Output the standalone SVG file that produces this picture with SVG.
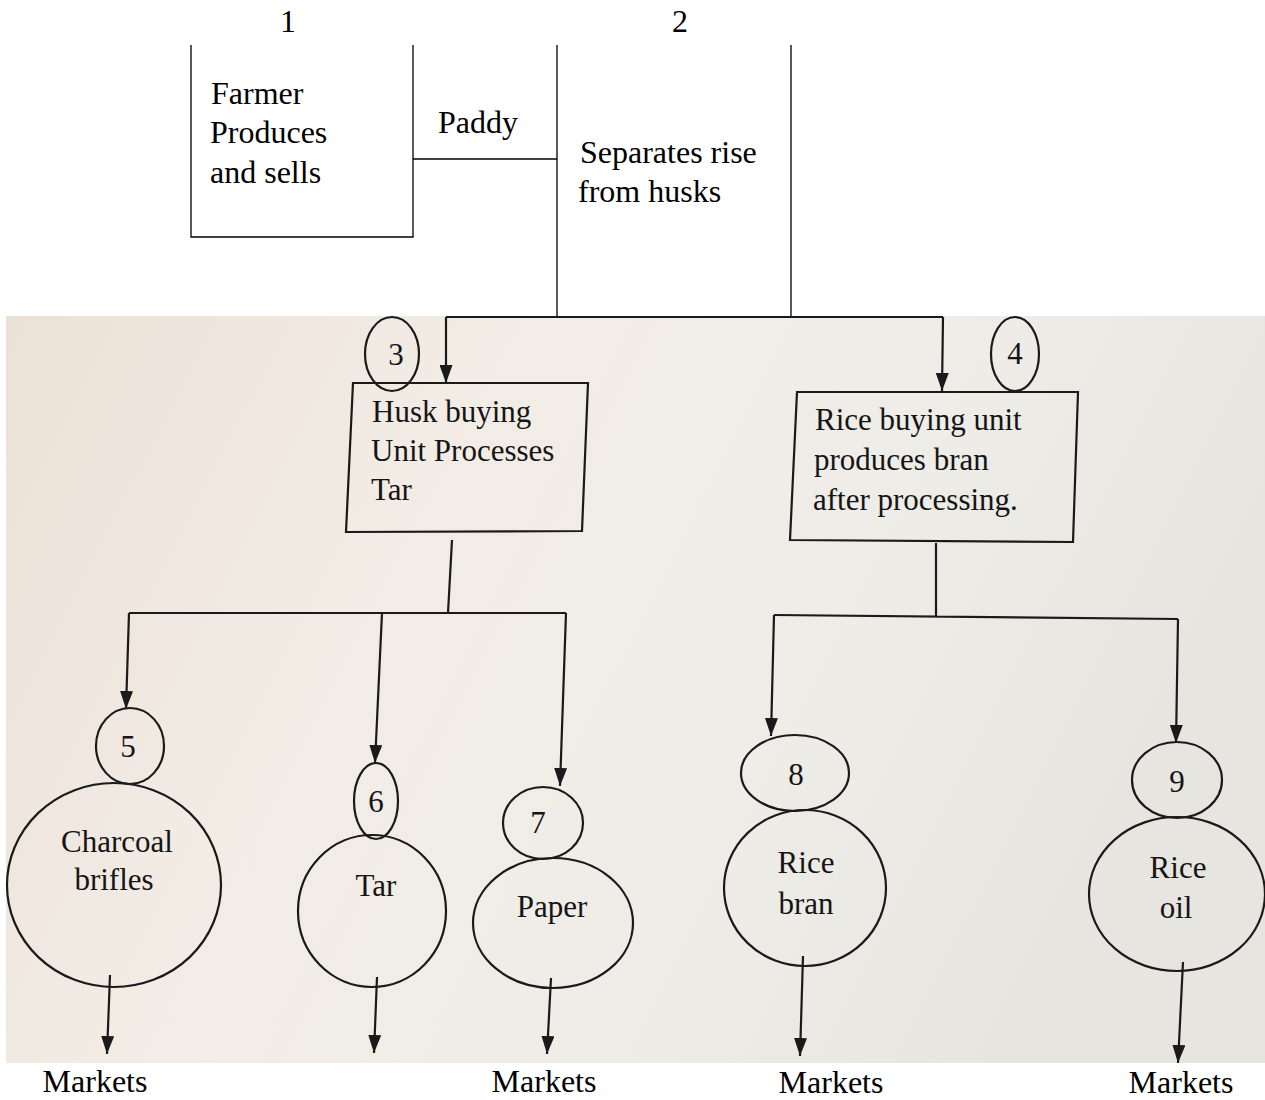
<svg xmlns="http://www.w3.org/2000/svg" width="1265" height="1100" viewBox="0 0 1265 1100">
  <style>
    .t { font-family: "Liberation Serif", "Times New Roman", serif; font-size: 32px; fill: #000; }
    .p { font-family: "Liberation Serif", "Times New Roman", serif; font-size: 31px; fill: #151515; }
    .m { text-anchor: middle; }
    .ln { stroke: #000; stroke-width: 1.3; fill: none; }
    .pl { stroke: #1a1a1a; stroke-width: 2.2; fill: none; }
    .arr { stroke: #1a1a1a; stroke-width: 2.2; fill: none; marker-end: url(#ah); }
  </style>
  <defs>
    <marker id="ah" viewBox="0 0 18 13" refX="18" refY="6.5" markerWidth="18" markerHeight="13" markerUnits="userSpaceOnUse" orient="auto">
      <path d="M0,0 L18,6.5 L0,13 z" fill="#1a1a1a"/>
    </marker>
    <linearGradient id="bg" x1="0" y1="0" x2="1" y2="0.3">
      <stop offset="0" stop-color="#ebe1d6"/>
      <stop offset="0.35" stop-color="#f2ece5"/>
      <stop offset="0.7" stop-color="#efede8"/>
      <stop offset="1" stop-color="#e7e5e0"/>
    </linearGradient>
  </defs>
  <rect x="0" y="0" width="1265" height="1100" fill="#fff"/>
  <rect x="6" y="316" width="1259" height="747" fill="url(#bg)"/>

  <g id="node1">
    <text class="t m" x="288" y="32">1</text>
    <path class="ln" d="M191,45 L191,237 L413,237 L413,45"/>
    <text class="t" x="211" y="104">Farmer</text>
    <text class="t" x="210" y="143">Produces</text>
    <text class="t" x="210" y="183">and sells</text>
  </g>
  <g id="node2">
    <text class="t m" x="680" y="32">2</text>
    <path class="ln" d="M557,45 L557,316 M791,45 L791,316"/>
    <text class="t" x="580" y="163">Separates rise</text>
    <text class="t" x="578" y="202">from husks</text>
  </g>
  <g id="node3">
    <polygon class="pl" points="353,383 588,383 582,531 346,532"/>
    <ellipse class="pl" cx="392" cy="354" rx="27" ry="37"/>
    <text class="p m" x="396" y="365">3</text>
    <text class="p" x="372" y="422">Husk buying</text>
    <text class="p" x="371" y="461">Unit Processes</text>
    <text class="p" x="371" y="500">Tar</text>
  </g>
  <g id="node4">
    <polygon class="pl" points="797,392 1078,392 1073,542 790,540"/>
    <ellipse class="pl" cx="1015" cy="354" rx="24" ry="37"/>
    <text class="p m" x="1015" y="364">4</text>
    <text class="p" x="815" y="430">Rice buying unit</text>
    <text class="p" x="814" y="470">produces bran</text>
    <text class="p" x="813" y="510">after processing.</text>
  </g>
  <g id="node5">
    <ellipse class="pl" cx="130" cy="746" rx="34" ry="38"/>
    <text class="p m" x="128" y="757">5</text>
    <ellipse class="pl" cx="114" cy="885" rx="107" ry="102"/>
    <text class="p m" x="117" y="852">Charcoal</text>
    <text class="p m" x="114" y="890">brifles</text>
  </g>
  <g id="node6">
    <ellipse class="pl" cx="376" cy="801" rx="22" ry="38"/>
    <text class="p m" x="376" y="812">6</text>
    <ellipse class="pl" cx="372" cy="911" rx="74" ry="76"/>
    <text class="p m" x="376" y="896">Tar</text>
  </g>
  <g id="node7">
    <ellipse class="pl" cx="543" cy="823" rx="40" ry="36"/>
    <text class="p m" x="538" y="833">7</text>
    <ellipse class="pl" cx="553" cy="923" rx="80" ry="65"/>
    <text class="p m" x="552" y="917">Paper</text>
  </g>
  <g id="node8">
    <ellipse class="pl" cx="795" cy="773" rx="54" ry="38"/>
    <text class="p m" x="796" y="785">8</text>
    <ellipse class="pl" cx="805" cy="888" rx="81" ry="78"/>
    <text class="p m" x="806" y="873">Rice</text>
    <text class="p m" x="806" y="914">bran</text>
  </g>
  <g id="node9">
    <ellipse class="pl" cx="1177" cy="780" rx="45" ry="38"/>
    <text class="p m" x="1177" y="792">9</text>
    <ellipse class="pl" cx="1177" cy="894" rx="88" ry="77"/>
    <text class="p m" x="1178" y="878">Rice</text>
    <text class="p m" x="1176" y="918">oil</text>
  </g>
  <g id="markets">
    <text class="t m" x="95" y="1092">Markets</text>
    <text class="t m" x="544" y="1092">Markets</text>
    <text class="t m" x="831" y="1093">Markets</text>
    <text class="t m" x="1181" y="1093">Markets</text>
  </g>

  <g id="connectors">
    <path class="ln" d="M413,159 L557,159"/>
    <text class="t" x="438" y="133">Paddy</text>
    <path class="pl" d="M446,317 L943,317"/>
    <path class="arr" d="M446,317 L446,383"/>
    <path class="arr" d="M943,317 L942,391"/>
    <path class="pl" d="M452,540 L448,613 M129,613 L566,613"/>
    <path class="arr" d="M129,613 L126,709"/>
    <path class="arr" d="M382,613 L375,763"/>
    <path class="arr" d="M566,613 L560,786"/>
    <path class="pl" d="M936,543 L936,616 M774,615 L1178,619"/>
    <path class="arr" d="M774,615 L771,736"/>
    <path class="arr" d="M1178,619 L1176,743"/>
    <path class="arr" d="M110,975 L107,1054"/>
    <path class="arr" d="M377,977 L374,1053"/>
    <path class="arr" d="M551,978 L547,1054"/>
    <path class="arr" d="M803,956 L800,1056"/>
    <path class="arr" d="M1183,962 L1178,1063"/>
  </g>
</svg>
